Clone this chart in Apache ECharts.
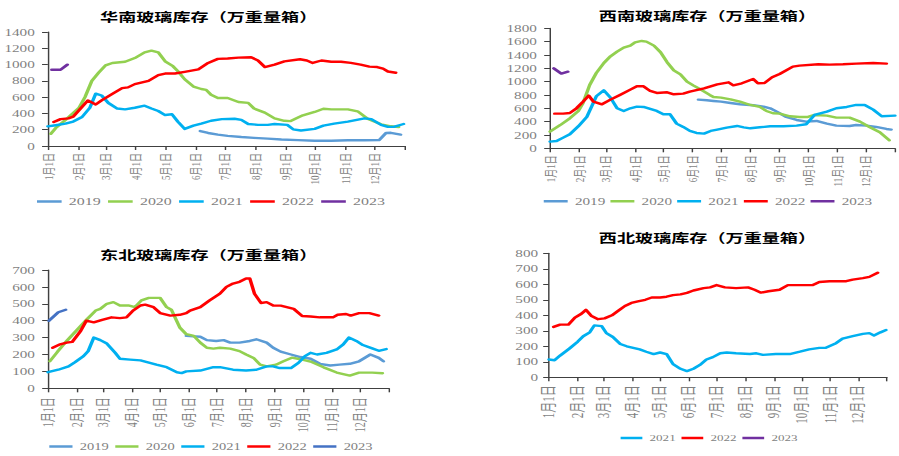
<!DOCTYPE html>
<html><head><meta charset="utf-8">
<script src="https://cdn.jsdelivr.net/npm/echarts@6/dist/echarts.min.js"></script>
<style>
html,body{margin:0;padding:0;background:#fff;overflow:hidden}
#wrap{width:899px;height:456px;overflow:hidden}
#c{width:620px;height:456px;transform:scaleX(1.45);transform-origin:0 0}
</style>
</head><body><div id="wrap"><div id="c"></div></div>
<script>
// ---- data (x = day of year, y = 万重量箱) ----
const monthStarts = [0,31,59,90,120,151,181,212,243,273,304,334];
const monthLabels = ['1月1日','2月1日','3月1日','4月1日','5月1日','6月1日','7月1日','8月1日','9月1日','10月1日','11月1日','12月1日'];
const titles = ['华南玻璃库存（万重量箱）','西南玻璃库存（万重量箱）','东北玻璃库存（万重量箱）','西北玻璃库存（万重量箱）'];
const yMax = [1400,1800,700,800];
const yStep = [200,200,100,100];

// 华南
const hn2019 = [[156,184],[164,160],[174,140],[184,125],[198,110],[211,100],[225,90],[239,80],[256,72],[273,65],[290,65],[307,70],[324,70],[339,72],[346,160],[351,162],[361,140]];
const hn2020 = [[3,150],[8,220],[18,320],[32,470],[38,600],[45,800],[52,900],[59,990],[66,1020],[79,1035],[89,1080],[99,1150],[106,1170],[113,1150],[120,1040],[128,980],[133,920],[140,820],[149,730],[157,700],[162,690],[167,630],[174,590],[184,590],[195,540],[205,530],[211,460],[222,410],[232,340],[242,310],[248,305],[256,350],[261,377],[273,418],[282,458],[290,450],[307,450],[317,426],[327,336],[341,266],[351,242],[359,233]];
const hn2021 = [[0,241],[8,255],[18,274],[26,300],[35,356],[43,470],[49,643],[55,620],[62,528],[71,460],[79,450],[89,470],[99,495],[106,460],[113,430],[120,380],[127,390],[133,300],[140,210],[149,250],[157,275],[167,310],[178,330],[191,335],[198,320],[205,270],[215,260],[225,260],[232,270],[245,260],[251,205],[259,190],[273,210],[282,250],[293,275],[307,300],[324,340],[331,330],[341,260],[348,235],[354,235],[364,270]];
const hn2022 = [[6,295],[13,330],[21,340],[26,360],[35,480],[41,560],[49,510],[55,560],[66,640],[76,710],[82,720],[89,760],[103,800],[113,870],[120,890],[130,890],[140,910],[154,940],[164,1020],[174,1070],[184,1075],[195,1085],[208,1090],[215,1050],[222,970],[232,1000],[242,1040],[258,1065],[265,1050],[271,1020],[280,1050],[290,1035],[300,1035],[310,1020],[320,1000],[329,975],[337,970],[343,950],[348,915],[356,900]];
const hn2023 = [[4,937],[13,937],[20,999]];

// 西南
const xn2019 = [[157,730],[166,720],[173,710],[181,700],[191,680],[201,660],[215,645],[226,625],[233,600],[240,550],[250,470],[261,425],[271,400],[282,410],[293,370],[303,340],[317,335],[324,350],[335,340],[345,320],[356,290],[361,280]];
const xn2020 = [[0,250],[11,350],[21,450],[30,560],[35,680],[42,950],[49,1130],[57,1280],[64,1380],[71,1450],[78,1510],[85,1540],[90,1590],[97,1610],[102,1600],[110,1540],[117,1440],[124,1290],[131,1170],[138,1110],[145,1000],[152,940],[161,870],[169,800],[173,770],[181,760],[191,735],[201,700],[212,650],[222,620],[229,560],[236,525],[243,520],[254,480],[264,470],[273,470],[280,500],[293,490],[303,460],[317,460],[328,400],[338,320],[349,240],[359,120]];
const xn2021 = [[0,100],[7,110],[14,160],[21,210],[30,330],[39,470],[49,780],[57,870],[64,760],[71,600],[78,560],[85,600],[92,625],[99,620],[106,590],[113,560],[120,510],[127,510],[134,370],[141,320],[148,260],[155,230],[163,220],[170,260],[177,280],[187,310],[198,335],[205,315],[212,300],[222,315],[233,330],[247,330],[261,340],[271,360],[280,500],[293,550],[303,600],[314,620],[324,650],[333,650],[342,580],[351,480],[365,490]];
const xn2022 = [[5,520],[14,520],[21,530],[28,600],[35,700],[41,790],[46,700],[55,660],[64,730],[74,800],[85,880],[92,930],[99,930],[106,860],[113,830],[124,840],[131,810],[141,820],[148,850],[163,900],[177,960],[189,990],[194,945],[203,975],[215,1040],[220,975],[227,980],[235,1065],[243,1115],[257,1225],[264,1240],[284,1260],[296,1255],[310,1260],[324,1270],[342,1280],[356,1270]];
const xn2023 = [[4,1200],[12,1120],[19,1150]];

// 东北
const db2019 = [[148,310],[163,305],[170,285],[180,280],[188,285],[195,270],[205,270],[216,280],[223,290],[234,270],[241,240],[249,217],[260,200],[270,185],[281,175],[291,145],[302,135],[312,140],[323,145],[333,160],[345,200],[354,180],[359,160]];
const db2020 = [[2,160],[10,215],[20,280],[31,345],[42,410],[51,460],[56,470],[63,500],[70,510],[77,490],[86,490],[93,480],[100,520],[108,535],[120,535],[127,480],[132,465],[141,360],[148,320],[156,310],[163,270],[170,240],[177,235],[184,240],[195,235],[205,220],[212,200],[220,180],[227,140],[234,130],[244,140],[252,160],[261,181],[270,172],[281,158],[295,124],[309,93],[323,75],[333,93],[347,93],[358,89]];
const db2021 = [[0,95],[11,110],[22,130],[29,155],[38,190],[43,220],[49,300],[56,285],[63,265],[72,210],[77,175],[88,170],[99,165],[106,155],[116,140],[127,125],[138,95],[143,90],[148,100],[163,105],[177,125],[184,125],[198,110],[212,105],[223,110],[234,130],[241,130],[248,120],[260,120],[268,150],[275,190],[281,210],[288,200],[298,210],[309,230],[316,260],[322,300],[330,280],[337,256],[347,236],[354,222],[362,232]];
const db2022 = [[5,240],[13,260],[20,270],[26,275],[35,340],[41,400],[49,390],[58,405],[68,420],[77,415],[84,420],[91,460],[99,490],[104,495],[113,480],[120,445],[131,430],[141,435],[148,445],[152,460],[163,480],[173,520],[184,560],[191,600],[198,620],[205,630],[212,650],[216,650],[221,560],[228,505],[234,510],[241,490],[249,489],[263,470],[272,428],[281,425],[291,420],[305,420],[310,435],[319,440],[324,430],[333,445],[344,445],[354,430]];
const db2023 = [[1,400],[11,450],[19,465]];

// 西北
const xb2021 = [[0,115],[6,110],[12,140],[22,185],[31,230],[37,265],[44,290],[49,335],[57,330],[62,285],[69,260],[77,215],[84,200],[91,190],[98,180],[105,165],[113,150],[120,160],[127,150],[134,85],[142,55],[149,40],[156,55],[163,80],[170,115],[177,130],[185,155],[192,160],[202,155],[217,150],[224,155],[231,145],[245,150],[260,150],[271,165],[281,180],[292,190],[299,190],[310,220],[317,250],[328,265],[339,280],[346,285],[351,270],[358,290],[364,305]];
const xb2022 = [[5,325],[12,340],[21,340],[28,385],[35,410],[40,435],[46,395],[53,375],[60,380],[68,400],[75,430],[82,460],[89,480],[96,490],[104,500],[111,515],[120,515],[127,520],[134,530],[142,535],[149,545],[156,560],[167,575],[174,580],[181,595],[190,580],[202,575],[215,580],[222,565],[229,546],[237,555],[249,565],[258,595],[271,595],[285,595],[292,615],[303,620],[321,620],[328,630],[339,640],[346,648],[355,675]];
const xb2023 = [];

// ---- styling / layout ----
const COLORS = {'2019':'#5b9bd5','2020':'#92d050','2021':'#00b0f0','2022':'#ff0000','2023':'#7030a0'};
const DB2023 = '#4472c4';
const AX = '#404040', LC = '#7f7f7f';
const SERIF = "'Liberation Serif','Times New Roman','Noto Sans CJK SC',serif";

const panels = [
  {grid:{left:32,top:32,width:247,height:114}, lbl:9, xm:7, ym:9,
   title:{left:64,top:5},
   legend:{left:25.5,top:195.5,iw:17,fs:11,gap:5},
   series:[['2019',hn2019],['2020',hn2020],['2021',hn2021],['2022',hn2022],['2023',hn2023]]},
  {grid:{left:379.3,top:28.3,width:237.9,height:120}, lbl:9, xm:7, ym:9,
   title:{left:408,top:4.5},
   legend:{left:375,top:195.5,iw:16.5,fs:10.5,gap:3.5},
   series:[['2019',xn2019],['2020',xn2020],['2021',xn2021],['2022',xn2022],['2023',xn2023]]},
  {grid:{left:33.1,top:270,width:235.2,height:118.3}, lbl:10, xm:9, ym:9,
   title:{left:64,top:243},
   legend:{left:34,top:441,iw:16,fs:10,gap:4.5},
   series:[['2019',db2019],['2020',db2020],['2021',db2021],['2022',db2022],['2023',db2023]]},
  {grid:{left:378.6,top:253.3,width:233.1,height:124}, lbl:11, xm:8, ym:7.5,
   title:{left:408,top:226},
   legend:{left:428,top:433,iw:15,fs:9,gap:4},
   series:[['2021',xb2021],['2022',xb2022],['2023',xb2023]]}
];

const option = {animation:false, backgroundColor:'#fff',
  title:[], grid:[], xAxis:[], yAxis:[], legend:[], series:[]};

panels.forEach((p,i)=>{
  option.title.push({text:titles[i], left:p.title.left, top:p.title.top,
    textStyle:{fontFamily:"'Noto Sans CJK SC',sans-serif", fontWeight:'bold', fontSize:12.5, color:'#000'}});
  option.grid.push(Object.assign({containLabel:false}, p.grid));
  option.xAxis.push({gridIndex:i, type:'value', min:0, max:365,
    axisLine:{show:true, onZero:false, lineStyle:{color:AX, width:1}},
    axisTick:{show:true, customValues:monthStarts.concat([365]), length:4, lineStyle:{color:AX}},
    axisLabel:{customValues:monthStarts, rotate:90, margin:p.xm, fontSize:p.lbl, color:LC, fontFamily:SERIF,
      formatter:v=>monthLabels[monthStarts.indexOf(v)] || ''},
    splitLine:{show:false}});
  option.yAxis.push({gridIndex:i, type:'value', min:0, max:yMax[i], interval:yStep[i],
    axisLine:{show:true, lineStyle:{color:AX, width:1}},
    axisTick:{show:true, length:4, lineStyle:{color:AX}},
    axisLabel:{margin:p.ym, fontSize:10.5, color:LC, fontFamily:SERIF, formatter:v=>String(v)},
    splitLine:{show:false}});
  const colorOf = name => (i===2 && name==='2023') ? DB2023 : COLORS[name];
  option.legend.push({left:p.legend.left, top:p.legend.top, orient:'horizontal', padding:0,
    icon:'rect', itemWidth:p.legend.iw, itemHeight:2.5, itemGap:p.legend.gap, selectedMode:false,
    textStyle:{color:LC, fontSize:p.legend.fs, fontFamily:SERIF, lineHeight:p.legend.fs+1},
    data:p.series.map(s=>({name:s[0], icon:'rect', itemStyle:{color:colorOf(s[0])}, lineStyle:{color:colorOf(s[0])}}))});
  p.series.forEach(s=>{
    option.series.push({type:'line', name:s[0], xAxisIndex:i, yAxisIndex:i, data:s[1],
      symbol:'none', showSymbol:false, smooth:false,
      lineStyle:{color:colorOf(s[0]), width:2.4, join:'round', cap:'round'},
      itemStyle:{color:colorOf(s[0])}});
  });
});

const chart = echarts.init(document.getElementById('c'), null, {renderer:'svg'});
chart.setOption(option);
</script>
</body></html>
